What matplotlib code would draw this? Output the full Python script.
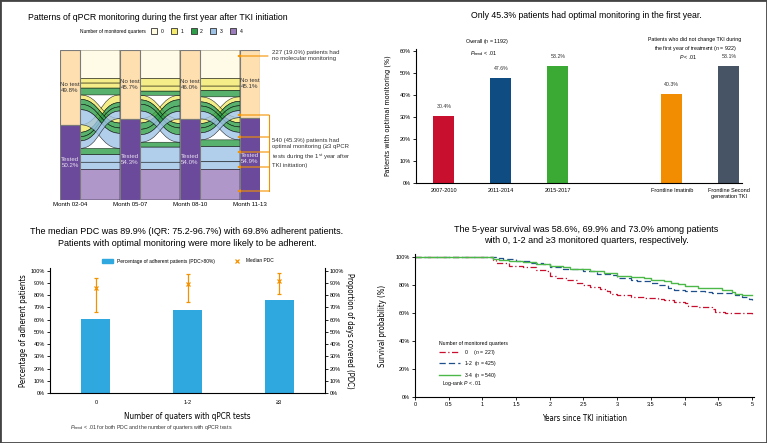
import matplotlib
matplotlib.use("Agg")
import matplotlib.pyplot as plt
import matplotlib.font_manager as fm
import numpy as np
from matplotlib.patches import Rectangle, PathPatch, Patch
from matplotlib.path import Path
from matplotlib.lines import Line2D

plt.rcParams['font.family'] = ['Liberation Sans', 'DejaVu Sans']
plt.rcParams['mathtext.fontset'] = 'custom'
plt.rcParams['mathtext.rm'] = 'Liberation Sans'
plt.rcParams['mathtext.it'] = 'Liberation Sans:italic'
plt.rcParams['axes.linewidth'] = 0.8

# condensed font for axis titles, if one is around
_names = {f.name for f in fm.fontManager.ttflist}
_condensed = [f for f in fm.fontManager.ttflist if 'Condensed' in f.fname and 'DejaVuSans' in f.fname
              and 'Bold' not in f.fname and 'Oblique' not in f.fname]


def narrow(size):
    if 'Liberation Sans Narrow' in _names:
        return fm.FontProperties(family='Liberation Sans Narrow', size=size)
    if _condensed:
        return fm.FontProperties(fname=_condensed[0].fname, size=size * 0.9)
    return fm.FontProperties(family='Liberation Sans', size=size * 0.84)


# ---- data: alluvial (patients by tested quarters) ----
months = ["Month 02-04", "Month 05-07", "Month 08-10", "Month 11-13"]
n_never = 227                      # 0 monitored quarters
g1_counts = [60, 35, 36, 40]       # 1 quarter, tested in quarter q
g2_pairs = ["12", "13", "14", "23", "24", "34"]
g2_counts = [50, 35, 33, 39, 43, 54]
g3_missing = [120, 60, 60, 56]     # 3 quarters, missing quarter q
n_all = 244                        # 4 monitored quarters
group_colors = ["#FFFBE0", "#F3EA6B", "#2E9E48", "#9EC2E6", "#9B7DBC"]

# ---- data: optimal monitoring bars ----
bar_labels = ["2007-2010", "2011-2014", "2015-2017", "Frontline Imatinib",
              "Frontline Second\ngeneration TKI"]
bar_pos = [0, 1, 2, 4, 5]
bar_vals = [30.4, 47.6, 53.2, 40.3, 53.1]
bar_colors = ["#C8102E", "#0F4C81", "#3AAA35", "#F28C00", "#465466"]

# ---- data: adherence ----
adh_labels = ["0", "1-2", "\u22653"]
adh_pct = [60.8, 67.6, 76.0]
pdc_median = [85.6, 88.8, 91.8]
pdc_low = [66.2, 74.1, 80.9]
pdc_high = [94.3, 97.0, 97.8]

# ---- data: survival ----
t0 = [0, 1.15, 1.2, 1.4, 1.6, 1.8, 1.95, 2.0, 2.1, 2.25, 2.4, 2.5, 2.6, 2.75, 2.85, 2.9,
      3.0, 3.2, 3.4, 3.6, 3.7, 3.85, 4.0, 4.05, 4.2, 4.4, 4.45, 4.6, 4.9, 5.0]
s0 = [100, 98, 96.4, 94, 93, 91, 90, 87, 85, 84, 82, 80, 79, 77.5, 76, 74,
      73.5, 72, 71, 70.5, 69.5, 68.5, 67.5, 65.5, 64.5, 63, 61, 60.5, 60, 58.6]
t12 = [0, 1.2, 1.3, 1.5, 1.7, 1.9, 2.0, 2.2, 2.5, 2.7, 2.9, 3.0, 3.2, 3.3, 3.5, 3.6,
       3.75, 3.85, 4.0, 4.3, 4.4, 4.75, 4.85, 4.95, 5.0]
s12 = [100, 99.5, 99, 97.5, 96, 95, 93.5, 92, 90, 88.5, 87.5, 85.5, 84, 83, 82, 80.5,
       78, 76.5, 76, 75.5, 74.5, 73, 71.5, 70.5, 69.9]
t34 = [0, 1.15, 1.25, 1.4, 1.6, 1.8, 2.0, 2.2, 2.3, 2.5, 2.6, 2.8, 3.0, 3.2, 3.4, 3.5,
       3.7, 3.8, 3.9, 4.0, 4.2, 4.4, 4.55, 4.7, 4.75, 4.85, 5.0]
s34 = [100, 99, 98.5, 97.5, 96.5, 95.5, 94, 93, 92, 91.5, 90.5, 89, 87, 86, 85.5, 84,
       83, 82, 81, 79.5, 78.5, 78, 77, 75.5, 74, 73.5, 73.0]
surv_labels = ["0     ($n$ = 227)", "1-2  ($n$ = 425)", "3-4  ($n$ = 540)"]

W, H = 767, 443


def fr(x, y):
    return (x / W, 1 - y / H)


def box(x0, y0, x1, y1):
    return [x0 / W, 1 - y1 / H, (x1 - x0) / W, (y1 - y0) / H]


fig = plt.figure(figsize=(W / 100, H / 100), dpi=100)

# ================= panel A: alluvial =================
patterns = [((0, 0, 0, 0), n_never, 0)]
for q, c in enumerate(g1_counts):
    patterns.append((tuple(1 if k == q else 0 for k in range(4)), c, 1))
for pr, c in zip(g2_pairs, g2_counts):
    patterns.append((tuple(1 if str(k + 1) in pr else 0 for k in range(4)), c, 2))
for q, c in enumerate(g3_missing):
    patterns.append((tuple(0 if k == q else 1 for k in range(4)), c, 3))
patterns.append(((1, 1, 1, 1), n_all, 4))
states = np.array([p[0] for p in patterns])
counts = np.array([p[1] for p in patterns])
groups = np.array([p[2] for p in patterns])
N = counts.sum()
nt_size = [counts[states[:, c] == 0].sum() for c in range(4)]

axA = fig.add_axes(box(60, 50, 260, 200))
w = 1 / 3
axA.set_xlim(-w / 2, 3 + w / 2)
axA.set_ylim(N, 0)
for sp in axA.spines.values():
    sp.set_visible(False)
axA.set_yticks([])
axA.set_xticks(range(4), months, fontsize=4.4)
axA.tick_params(axis='x', length=0, pad=1.5)


def top_of(c, s):
    return 0 if s == 0 else nt_size[c]


for c in range(3):
    left, right = {}, {}
    for s in (0, 1):
        idx = [i for i in range(len(patterns)) if states[i, c] == s]
        idx.sort(key=lambda i: (states[i, c + 1], groups[i], i))
        y = top_of(c, s)
        for i in idx:
            left[i] = (y, y + counts[i])
            y += counts[i]
        idx = [i for i in range(len(patterns)) if states[i, c + 1] == s]
        idx.sort(key=lambda i: (states[i, c], groups[i], i))
        y = top_of(c + 1, s)
        for i in idx:
            right[i] = (y, y + counts[i])
            y += counts[i]
    xl, xr = c + w / 2, c + 1 - w / 2
    xm = (xl + xr) / 2
    for i in range(len(patterns)):
        (a0, a1), (b0, b1) = left[i], right[i]
        verts = [(xl, a0), (xm, a0), (xm, b0), (xr, b0), (xr, b1),
                 (xm, b1), (xm, a1), (xl, a1), (xl, a0)]
        codes = [Path.MOVETO, Path.CURVE4, Path.CURVE4, Path.CURVE4, Path.LINETO,
                 Path.CURVE4, Path.CURVE4, Path.CURVE4, Path.CLOSEPOLY]
        axA.add_patch(PathPatch(Path(verts, codes), facecolor=group_colors[groups[i]],
                                alpha=0.8, edgecolor=(0, 0, 0, 0.18), lw=0.4))

for c in range(4):
    nt = nt_size[c]
    axA.add_patch(Rectangle((c - w / 2, 0), w, nt, facecolor="#FDDFB0",
                            edgecolor="#7a7a7a", lw=0.8, zorder=3))
    axA.add_patch(Rectangle((c - w / 2, nt), w, N - nt, facecolor="#6B4A9B",
                            edgecolor="#7a7a7a", lw=0.8, zorder=3))
    axA.text(c, nt / 2, f"No test\n{nt / N * 100:.1f}%", ha='center', va='center',
             fontsize=4.4, color="#333333", zorder=4, linespacing=1.3)
    axA.text(c, nt + (N - nt) / 2, f"Tested\n{(N - nt) / N * 100:.1f}%", ha='center',
             va='center', fontsize=4.4, color="#E8E0F0", zorder=4, linespacing=1.3)

fig.text(*fr(28, 18), "Patterns of qPCR monitoring during the first year after TKI initiation",
         fontsize=6.3, va='center', ha='left')
fig.text(*fr(146, 31), "Number of monitored quarters", fontsize=3.5, ha='right', va='center')
fig.legend(handles=[Patch(facecolor=group_colors[g], edgecolor="#333333", lw=0.6, label=str(g))
                    for g in range(5)],
           loc='center left', bbox_to_anchor=fr(151, 31), ncol=5, frameon=False,
           fontsize=3.6, handlelength=1.2, handleheight=1.2, handletextpad=0.7,
           columnspacing=1.5, borderpad=0, borderaxespad=0)

orange = "#F39200"
ar = dict(arrowstyle='-|>', color=orange, lw=0.8, mutation_scale=4, shrinkA=0, shrinkB=0)
axA.annotate("", xy=fr(237, 56), xycoords='figure fraction', xytext=fr(268, 56),
             textcoords='figure fraction', arrowprops=ar)
fig.text(*fr(272, 50), "227 (19.0%) patients had\nno molecular monitoring", fontsize=4.3,
         va='top', ha='left', color="#333333", linespacing=1.35)
fig.add_artist(Line2D([269 / W, 269 / W], [1 - 115 / H, 1 - 191 / H], color=orange, lw=0.8))
for ya in [115, 137, 152, 167, 191]:
    axA.annotate("", xy=fr(237, ya), xycoords='figure fraction', xytext=fr(269, ya),
                 textcoords='figure fraction', arrowprops=ar)
fig.text(*fr(272, 138), "540 (45.3%) patients had\noptimal monitoring (\u22653 qPCR\n"
         "tests during the 1$^{\\rm st}$ year after\nTKI initiation)", fontsize=4.3,
         va='top', ha='left', color="#333333", linespacing=1.35)

# ================= panel B: optimal monitoring bars =================
axB = fig.add_axes(box(416, 48.5, 742, 182.7))
axB.bar(bar_pos, bar_vals, width=0.37, color=bar_colors)
for x, v in zip(bar_pos, bar_vals):
    axB.text(x, v + 3, f"{v:.1f}%", ha='center', va='bottom', fontsize=3.8, color="#333333")
axB.set_xlim(-0.49, 5.23)
axB.set_ylim(0, 61)
axB.set_yticks(range(0, 61, 10), [f"{v}%" for v in range(0, 61, 10)])
axB.set_xticks(bar_pos, bar_labels)
axB.tick_params(axis='y', labelsize=4, length=2, width=0.6, pad=1.5)
axB.tick_params(axis='x', labelsize=4, length=0, pad=4)
axB.spines[['top', 'right']].set_visible(False)
axB.set_ylabel("Patients with optimal monitoring (%)", fontproperties=narrow(5.8), labelpad=6)
fig.text(*fr(586, 15), "Only 45.3% patients had optimal monitoring in the first year.",
         fontsize=6.3, ha='center', va='center')
fig.text(*fr(487, 42), "Overall ($n$ = 1192)", fontsize=3.8, ha='center', va='center')
fig.text(*fr(484, 54), "$P_{\\rm trend}$ < .01", fontsize=3.8, ha='center', va='center')
fig.text(*fr(695, 45), "Patients who did not change TKI during\nthe first year of treatment ($n$ = 922)",
         fontsize=3.8, ha='center', va='center', linespacing=1.3)
fig.text(*fr(688, 57), "$P$ < .01", fontsize=3.8, ha='center', va='center')

# ================= panel C: adherence =================
blue = "#2FA8E0"
axC = fig.add_axes(box(50, 268.2, 325, 393))
xc = np.arange(len(adh_labels))
axC.bar(xc, adh_pct, width=0.32, color=blue)
yerr = [np.array(pdc_median) - np.array(pdc_low), np.array(pdc_high) - np.array(pdc_median)]
axC.errorbar(xc, pdc_median, yerr=yerr, fmt='x', color=orange, ms=3, mew=0.9,
             elinewidth=0.9, capsize=1.5, capthick=0.8)
axC.set_xlim(-0.5, 2.5)
axC.set_ylim(0, 102)
ticks = range(0, 101, 10)
axC.set_yticks(ticks, [f"{v}%" for v in ticks])
axC.set_xticks(xc, adh_labels)
axC.tick_params(axis='y', labelsize=4, length=2, width=0.6, pad=1.5)
axC.tick_params(axis='x', labelsize=4, length=0, pad=5)
axC.spines['top'].set_visible(False)
axC.spines['right'].set_visible(False)
axC.set_ylabel("Percentage of adherent patients", fontproperties=narrow(6.2), labelpad=2)
axC.set_xlabel("Number of quaters with qPCR tests", fontproperties=narrow(6.4), labelpad=5)
axC2 = axC.twinx()
axC2.set_ylim(0, 102)
axC2.set_yticks(ticks, [f"{v}%" for v in ticks])
axC2.tick_params(axis='y', labelsize=4, length=2, width=0.6, pad=1.5)
axC2.spines[['top', 'left', 'bottom']].set_visible(False)
axC2.set_ylabel("Proportion of days covered (PDC)", fontproperties=narrow(6.2),
                rotation=270, labelpad=7)
axC.legend(handles=[Patch(color=blue, label="Percentage of adherent patients (PDC>80%)"),
                    Line2D([], [], ls='none', marker='x', color=orange, ms=3, mew=0.9,
                           label="Median PDC")],
           loc='center', bbox_to_anchor=fr(188, 261), bbox_transform=fig.transFigure,
           ncol=2, frameon=False, fontsize=3.5, handlelength=2.2, handleheight=0.7,
           columnspacing=3.5, borderpad=0)
fig.text(*fr(187, 237.5), "The median PDC was 89.9% (IQR: 75.2-96.7%) with 69.8% adherent patients.\n"
         "Patients with optimal monitoring were more likely to be adherent.",
         fontsize=6.5, ha='center', va='center', linespacing=1.3)
fig.text(*fr(70, 427), "$P_{\\rm trend}$ < .01 for both PDC and the number of quarters with qPCR tests",
         fontsize=3.8, ha='left', va='center', color="#333333")

# ================= panel D: survival =================
axD = fig.add_axes(box(415, 254, 754, 397.3))
axD.plot(t0, s0, drawstyle='steps-post', color="#C8102E", lw=0.9, ls=(0, (5, 2, 1, 2)),
         label=surv_labels[0])
axD.plot(t12, s12, drawstyle='steps-post', color="#1F4E8C", lw=0.9, ls=(0, (5, 2.5)),
         label=surv_labels[1])
axD.plot(t34, s34, drawstyle='steps-post', color="#4CB848", lw=1.0, label=surv_labels[2])
axD.set_xlim(0, 5.03)
axD.set_ylim(0, 102.5)
axD.set_xticks(np.arange(0, 5.01, 0.5), ["0", "0.5", "1", "1.5", "2", "2.5", "3", "3.5",
                                          "4", "4.5", "5"])
axD.set_yticks(range(0, 101, 20), [f"{v}%" for v in range(0, 101, 20)])
axD.tick_params(labelsize=4, length=2, width=0.6, pad=1.5)
axD.spines[['top', 'right']].set_visible(False)
axD.set_xlabel("Years since TKI initiation", fontproperties=narrow(6.2), labelpad=5)
axD.set_ylabel("Survival probability (%)", fontproperties=narrow(6.2), labelpad=6)
leg = axD.legend(title="Number of monitored quarters", loc='upper left',
                 bbox_to_anchor=fr(436, 338), bbox_transform=fig.transFigure, frameon=False,
                 fontsize=3.7, title_fontsize=3.7, handlelength=4.2, labelspacing=0.45,
                 borderpad=0)
leg._legend_box.align = "left"
fig.text(*fr(442, 384), "Log-rank $P$ < .01", fontsize=3.7, ha='left', va='center')
fig.text(*fr(586, 235), "The 5-year survival was 58.6%, 69.9% and 73.0% among patients\n"
         "with 0, 1-2 and \u22653 monitored quarters, respectively.",
         fontsize=6.5, ha='center', va='center', linespacing=1.3)

# outer frame
fig.add_artist(Rectangle((0, 0), 1, 1, transform=fig.transFigure, fill=False,
                         edgecolor="#444444", lw=2))

fig.savefig("out.png", dpi=100)
